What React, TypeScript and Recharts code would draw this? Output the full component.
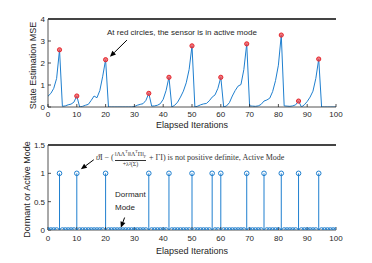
import { ComposedChart, Line, Scatter, XAxis, YAxis, ReferenceLine } from "recharts";

// x positions: elapsed iterations 0..100
const iterations = [
  0, 1, 2, 3, 4, 5, 6, 7, 8, 9, 10, 11, 12, 13, 14, 15, 16, 17, 18, 19, 20,
  21, 22, 23, 24, 25, 26, 27, 28, 29, 30, 31, 32, 33, 34, 35, 36, 37, 38, 39, 40,
  41, 42, 43, 44, 45, 46, 47, 48, 49, 50, 51, 52, 53, 54, 55, 56, 57, 58, 59, 60,
  61, 62, 63, 64, 65, 66, 67, 68, 69, 70, 71, 72, 73, 74, 75, 76, 77, 78, 79, 80,
  81, 82, 83, 84, 85, 86, 87, 88, 89, 90, 91, 92, 93, 94, 95, 96, 97, 98, 99, 100,
];

// state estimation MSE
const mse = [
  0.49, 0.62, 0.85, 1.3, 2.6, 0.03, 0.05, 0.1, 0.13, 0.22, 0.5,
  0.0, 0.03, 0.08, 0.12, 0.3, 0.5, 0.42, 0.75, 1.4, 2.15,
  0.0, 0.0, 0.0, 0.0, 0.0, 0.0, 0.0, 0.0, 0.0, 0.02,
  0.08, 0.12, 0.15, 0.3, 0.62, 0.04, 0.05, 0.08, 0.15, 0.35,
  0.75, 1.35, 0.0, 0.08, 0.22, 0.45, 0.72, 1.1, 1.7, 2.78,
  0.0, 0.04, 0.1, 0.14, 0.16, 0.28, 0.45, 0.55, 0.85, 1.35,
  0.0, 0.05, 0.2, 0.5, 0.75, 0.95, 1.02, 1.7, 2.87, 0.05,
  0.04, 0.03, 0.05, 0.12, 0.27, 0.32, 0.4, 0.7, 1.2, 1.9,
  3.27, 0.05, 0.04, 0.03, 0.05, 0.1, 0.27, 0.0, 0.1, 0.25,
  0.45, 0.72, 1.3, 2.18, 0.0, 0.0, 0.0, 0.0, 0.0, 0.0,
];

// red circles (top) and active-mode stems (bottom)
const redIters = [4, 10, 20, 35, 42, 50, 60, 69, 81, 87, 94];
const activeIters = [4, 10, 20, 35, 42, 50, 57, 60, 69, 75, 81, 87, 94];

const xTicks = [0, 10, 20, 30, 40, 50, 60, 70, 80, 90, 100];
const mseTicks = [0, 1, 2, 3, 4];
const modeTicks = [0, 0.5, 1, 1.5];

const BLUE = "#1f7fcf";
const AXIS = "#262626";
const FONT = "'Liberation Sans', Arial, Helvetica, sans-serif";

const mseData = iterations.map((x, i) => ({ x, y: mse[i] }));
const redData = redIters.map((x) => ({ x, y: mse[x] }));
const modeData = iterations.map((x) => ({ x, y: activeIters.includes(x) ? 1 : 0 }));

const tickStyle = { fontSize: 8, fill: AXIS, fontFamily: FONT };

// black annotation arrow, segment goes tail -> tip
const Arrow = (props: any) => {
  const { x1, y1, x2, y2 } = props;
  const a = Math.atan2(y2 - y1, x2 - x1);
  const L = 6;
  const W = 2.6;
  const bx = x2 - L * Math.cos(a);
  const by = y2 - L * Math.sin(a);
  const pts = [
    [x2, y2],
    [bx + W * Math.sin(a), by - W * Math.cos(a)],
    [bx - W * Math.sin(a), by + W * Math.cos(a)],
  ]
    .map((p) => p.join(","))
    .join(" ");
  return (
    <g>
      <line x1={x1} y1={y1} x2={bx} y2={by} stroke="#000" strokeWidth={1} />
      <polygon points={pts} fill="#000" />
    </g>
  );
};

const axisCommon = {
  stroke: AXIS,
  strokeWidth: 0.8,
};

// one MATLAB-style boxed panel; plotBottom is the y of the x axis inside the chart
function Panel({ children, height, top, domain, ticks, xMargin, plotTop, plotBottom }: any) {
  return (
    <div style={{ position: "absolute", left: 0, top, width: 372, height }}>
      <ComposedChart
        width={372}
        height={height}
        margin={{ top: plotTop, right: 36, bottom: 0, left: 0 }}
      >
        <XAxis
          dataKey="x"
          type="number"
          domain={[0, 100]}
          ticks={xTicks}
          allowDataOverflow
          tickSize={-3}
          tickMargin={xMargin}
          tick={tickStyle}
          height={height - plotBottom}
          {...axisCommon}
        />
        <YAxis
          type="number"
          domain={domain}
          ticks={ticks}
          allowDataOverflow
          width={48}
          tickSize={-3}
          tickMargin={6}
          tick={tickStyle}
          {...axisCommon}
        />
        <YAxis
          yAxisId="right"
          orientation="right"
          type="number"
          domain={domain}
          ticks={ticks}
          allowDataOverflow
          width={0}
          tickSize={-3}
          tick={false}
          {...axisCommon}
        />
        {/* top edge of the box, drawn as a segment on the data scales */}
        <ReferenceLine
          segment={[
            { x: 0, y: domain[1] },
            { x: 100, y: domain[1] },
          ]}
          ifOverflow="visible"
          stroke={AXIS}
          strokeWidth={1}
        />
        {children}
      </ComposedChart>
      <div
        style={{
          position: "absolute",
          left: 48,
          top: plotTop - 1,
          width: 288,
          height: 2,
          background: "#444",
          zIndex: 5,
          pointerEvents: "none",
        }}
      />
    </div>
  );
}

export default function App() {
  return (
    <div
      style={{
        position: "absolute",
        left: 0,
        top: 0,
        width: 372,
        height: 263,
        background: "#fff",
        fontFamily: FONT,
        color: AXIS,
      }}
    >
      {/* top panel: MSE */}
      <Panel height={132} top={0} domain={[0, 4]} ticks={mseTicks} xMargin={7} plotTop={19} plotBottom={107}>
        <Line
          data={mseData}
          dataKey="y"
          type="linear"
          stroke={BLUE}
          strokeWidth={1}
          dot={false}
          isAnimationActive={false}
        />
        <Scatter
          data={redData}
          dataKey="y"
          isAnimationActive={false}
          shape={(p: any) => (
            <circle cx={p.cx} cy={p.cy} r={2.1} fill="#f04a4f" fillOpacity={0.75} stroke="#e3262d" strokeWidth={1} />
          )}
        />
        <ReferenceLine
          segment={[
            { x: 27.4, y: 3.04 },
            { x: 21.5, y: 2.28 },
          ]}
          shape={Arrow}
        />
      </Panel>

      {/* bottom panel: dormant / active stems */}
      <Panel height={131} top={132} domain={[0, 1.5]} ticks={modeTicks} xMargin={8} plotTop={13} plotBottom={98}>
        {activeIters.map((it) => (
          <ReferenceLine
            key={it}
            segment={[
              { x: it, y: 0 },
              { x: it, y: 1 },
            ]}
            stroke={BLUE}
            strokeWidth={1}
          />
        ))}
        <Scatter
          data={modeData}
          dataKey="y"
          isAnimationActive={false}
          shape={(p: any) => (
            <circle cx={p.cx} cy={p.cy} r={2.3} fill="none" stroke={BLUE} strokeWidth={1} />
          )}
        />
        <ReferenceLine
          segment={[
            { x: 15.9, y: 1.24 },
            { x: 11.4, y: 1.07 },
          ]}
          shape={Arrow}
        />
        <ReferenceLine
          segment={[
            { x: 26.6, y: 0.22 },
            { x: 25.3, y: 0.04 },
          ]}
          shape={Arrow}
        />
      </Panel>

      {/* axis titles */}
      <div style={{ position: "absolute", left: 0, width: 384, top: 120, fontSize: 9, lineHeight: "11px", textAlign: "center" }}>
        Elapsed Iterations
      </div>
      <div style={{ position: "absolute", left: 0, width: 384, top: 246, fontSize: 9, lineHeight: "11px", textAlign: "center" }}>
        Elapsed Iterations
      </div>
      <div
        style={{
          position: "absolute",
          left: 33 - 60,
          top: 65 - 5.5,
          width: 120,
          fontSize: 9,
          lineHeight: "11px",
          textAlign: "center",
          transform: "rotate(-90deg)",
          whiteSpace: "nowrap",
        }}
      >
        State Estimation MSE
      </div>
      <div
        style={{
          position: "absolute",
          left: 27 - 60,
          top: 189 - 5.5,
          width: 120,
          fontSize: 9,
          lineHeight: "11px",
          textAlign: "center",
          transform: "rotate(-90deg)",
          whiteSpace: "nowrap",
        }}
      >
        Dormant or Active Mode
      </div>

      {/* annotations */}
      <div style={{ position: "absolute", left: 107, top: 28, fontSize: 8, lineHeight: "10px", whiteSpace: "nowrap" }}>
        At red circles, the sensor is in active mode
      </div>
      <div style={{ position: "absolute", left: 115, top: 189, fontSize: 8, lineHeight: "12.5px" }}>
        Dormant
        <br />
        Mode
      </div>
      <div
        style={{
          position: "absolute",
          left: 96,
          top: 149,
          fontSize: 8,
          lineHeight: "14px",
          whiteSpace: "nowrap",
          fontFamily: "'Liberation Serif', 'Times New Roman', serif",
          display: "flex",
          alignItems: "center",
          color: "#333",
        }}
      >
        <span>
          <i>ϑ</i>I − (
        </span>
        <span style={{ display: "inline-flex", flexDirection: "column", alignItems: "center", fontSize: 6, lineHeight: "6px", margin: "0 1px" }}>
          <span style={{ borderBottom: "0.5px solid #333" }}>
            ‖ΛΛ<sup style={{ fontSize: 4 }}>T</sup>‖‖Λ<sup style={{ fontSize: 4 }}>T</sup>Π‖<sub style={{ fontSize: 4 }}>F</sub>
          </span>
          <span>+λ²(Σ)</span>
        </span>
        <span>&nbsp;+ ΓI) is not positive definite, Active Mode</span>
      </div>
    </div>
  );
}
